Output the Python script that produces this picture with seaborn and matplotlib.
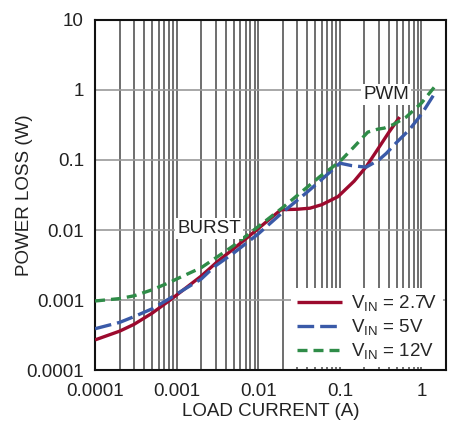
import matplotlib
matplotlib.use("Agg")
import matplotlib.pyplot as plt
from matplotlib.ticker import LogLocator, NullFormatter, FixedLocator, FixedFormatter
import pandas as pd
import seaborn as sns

# Data (load current A, power loss W)
x_27 = [0.0001, 0.0002, 0.0003, 0.0005, 0.00083, 0.001, 0.002, 0.0033, 0.005,
        0.01, 0.019, 0.03, 0.043, 0.06, 0.095, 0.15, 0.21, 0.3, 0.4, 0.54]
y_27 = [0.00027, 0.00036, 0.00045, 0.00065, 0.001, 0.00118, 0.0022, 0.0037, 0.0054,
        0.0105, 0.0195, 0.0198, 0.0205, 0.023, 0.03, 0.05, 0.08, 0.15, 0.25, 0.41]

x_5 = [0.0001, 0.0002, 0.0003, 0.0005, 0.00083, 0.001, 0.002, 0.0029, 0.005,
       0.01, 0.02, 0.04, 0.057, 0.1, 0.14, 0.21, 0.3, 0.37, 0.5, 0.71, 1.0, 1.44]
y_5 = [0.00039, 0.00048, 0.00058, 0.00075, 0.00106, 0.00122, 0.002, 0.003, 0.0047,
       0.0088, 0.018, 0.035, 0.05, 0.09, 0.083, 0.079, 0.1, 0.124, 0.18, 0.27, 0.45, 0.88]

x_12 = [0.0001, 0.0002, 0.0003, 0.0005, 0.00083, 0.001, 0.002, 0.0033, 0.005,
        0.01, 0.02, 0.057, 0.1, 0.15, 0.22, 0.29, 0.35, 0.45, 0.65, 1.0, 1.44]
y_12 = [0.00097, 0.00105, 0.00115, 0.0014, 0.0018, 0.002, 0.0029, 0.0043, 0.006,
        0.0112, 0.021, 0.058, 0.095, 0.155, 0.25, 0.275, 0.285, 0.32, 0.41, 0.65, 1.1]

labels = [r"V$_{\mathrm{IN}}$ = 2.7V", r"V$_{\mathrm{IN}}$ = 5V", r"V$_{\mathrm{IN}}$ = 12V"]
colors = ["#9c0a2e", "#3a5aa8", "#2f8c48"]
dashes = [(1, 0), (5, 1.8), (3, 1.8)]

df = pd.concat([
    pd.DataFrame({"current": x_27, "loss": y_27, "vin": labels[0]}),
    pd.DataFrame({"current": x_5, "loss": y_5, "vin": labels[1]}),
    pd.DataFrame({"current": x_12, "loss": y_12, "vin": labels[2]}),
])

sns.set_style("white")
plt.rcParams["font.family"] = ["Liberation Sans", "DejaVu Sans"]
plt.rcParams["mathtext.fontset"] = "custom"
plt.rcParams["mathtext.rm"] = "Liberation Sans"

fig = plt.figure(figsize=(4.57, 4.23), dpi=100)
ax = fig.add_axes([0.208, 0.125, 0.768, 0.828])

sns.lineplot(data=df, x="current", y="loss", hue="vin", style="vin",
             palette=dict(zip(labels, colors)), dashes=dict(zip(labels, dashes)),
             linewidth=2.4, sort=False, ax=ax, zorder=3)

ax.set_xscale("log")
ax.set_yscale("log")
ax.set_xlim(0.0001, 2)
ax.set_ylim(0.0001, 10)

xt = [0.0001, 0.001, 0.01, 0.1, 1]
yt = [0.0001, 0.001, 0.01, 0.1, 1, 10]
ax.xaxis.set_major_locator(FixedLocator(xt))
ax.xaxis.set_major_formatter(FixedFormatter(["0.0001", "0.001", "0.01", "0.1", "1"]))
ax.yaxis.set_major_locator(FixedLocator(yt))
ax.yaxis.set_major_formatter(FixedFormatter(["0.0001", "0.001", "0.01", "0.1", "1", "10"]))
ax.xaxis.set_minor_locator(LogLocator(base=10, subs=range(2, 10)))
ax.xaxis.set_minor_formatter(NullFormatter())
ax.yaxis.set_minor_locator(FixedLocator([]))

ax.grid(True, which="major", axis="y", color="#9a9a9a", linewidth=1.2)
ax.grid(True, which="both", axis="x", color="#555555", linewidth=1.2)
ax.tick_params(which="both", length=0, labelsize=13.5, colors="#222222")
ax.tick_params(axis="x", pad=9)
ax.tick_params(axis="y", pad=8)
for s in ax.spines.values():
    s.set_color("#111111")
    s.set_linewidth(1.5)

ax.set_xlabel("LOAD CURRENT (A)", fontsize=13.5, color="#222222", va="center")
ax.set_ylabel("POWER LOSS (W)", fontsize=13.5, color="#222222", va="center")
ax.xaxis.set_label_coords(0.5, -0.118)
ax.yaxis.set_label_coords(-0.2, 0.5)

box = dict(facecolor="white", edgecolor="none", pad=1.5)
ax.text(0.0025, 0.0105, "BURST", fontsize=13.5, ha="center", va="center", color="#222222", bbox=box, zorder=4)
ax.text(0.37, 0.85, "PWM", fontsize=13.5, ha="center", va="center", color="#222222", bbox=box, zorder=4)

leg = ax.legend(title=None, loc="lower right", fontsize=13.5, frameon=True, fancybox=False,
                handlelength=2.4, handletextpad=0.5, labelspacing=0.2,
                borderaxespad=0.15, borderpad=0.3)
leg.get_frame().set_edgecolor("none")
leg.get_frame().set_alpha(1)
for line in leg.get_lines():
    line.set_linewidth(2.4)

plt.savefig("out.png", dpi=100)
